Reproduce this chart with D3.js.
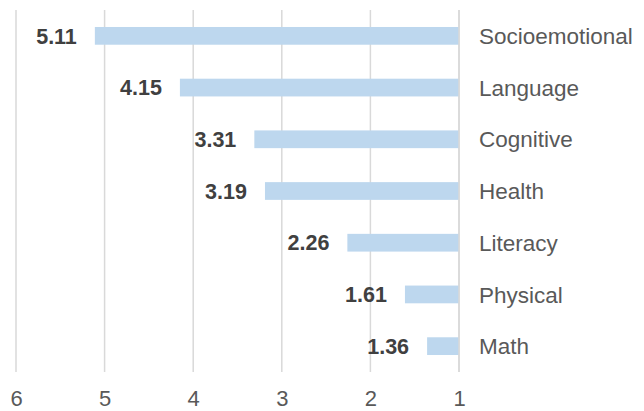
<!DOCTYPE html>
<html><head><meta charset="utf-8">
<script src="https://cdn.jsdelivr.net/npm/d3@7"></script>
<style>html,body{margin:0;padding:0;background:#fff;}svg{display:block;}</style>
</head><body>
<svg id="chart" width="644" height="411"></svg>
<script>
const categories = ["Socioemotional","Language","Cognitive","Health","Literacy","Physical","Math"];
const values = [5.11,4.15,3.31,3.19,2.26,1.61,1.36];
const ticks = [6,5,4,3,2,1];

const svg = d3.select("#chart");
const font = "'Liberation Sans', Arial, sans-serif";
const x = d3.scaleLinear().domain([6,1]).range([16,459]);
const y = d3.scaleBand().domain(categories).range([10,372]).paddingInner(0.657).paddingOuter(0.3285);

// gridlines
svg.append("g").selectAll("line").data(ticks).join("line")
  .attr("x1", d=>x(d)).attr("x2", d=>x(d))
  .attr("y1", 10).attr("y2", 372)
  .attr("stroke", "#d9d9d9").attr("stroke-width", 1.5);

// bars
svg.append("g").selectAll("rect").data(values).join("rect")
  .attr("x", d=>x(d)).attr("width", d=>x(1)-x(d))
  .attr("y", (d,i)=>y(categories[i])).attr("height", y.bandwidth())
  .attr("fill", "#bdd7ee");

// redraw the value-1 axis line on top
svg.append("line").attr("x1", x(1)).attr("x2", x(1)).attr("y1", 10).attr("y2", 372)
  .attr("stroke", "#d9d9d9").attr("stroke-width", 1.5);

// value labels
svg.append("g").selectAll("text").data(values).join("text")
  .attr("x", d=>x(d)-18)
  .attr("y", (d,i)=>y(categories[i])+y.bandwidth()/2)
  .attr("dy", "0.36em")
  .attr("text-anchor", "end")
  .attr("font-family", font).attr("font-size", 21.5).attr("font-weight", "bold")
  .attr("fill", "#404040")
  .text(d=>d.toFixed(2));

// category labels
svg.append("g").selectAll("text").data(categories).join("text")
  .attr("x", x(1)+20)
  .attr("y", d=>y(d)+y.bandwidth()/2)
  .attr("dy", "0.36em")
  .attr("font-family", font).attr("font-size", 22.5)
  .attr("fill", "#595959")
  .text(d=>d);

// x axis tick labels
const axis = d3.axisBottom(x).tickValues(ticks).tickSize(0).tickPadding(0).tickFormat(d3.format("d"));
const ax = svg.append("g").attr("transform", "translate(0,406)").call(axis);
ax.select(".domain").remove();
ax.selectAll("text").attr("font-family", font).attr("font-size", 22).attr("fill", "#595959").attr("dy","0");
</script>
</body></html>
